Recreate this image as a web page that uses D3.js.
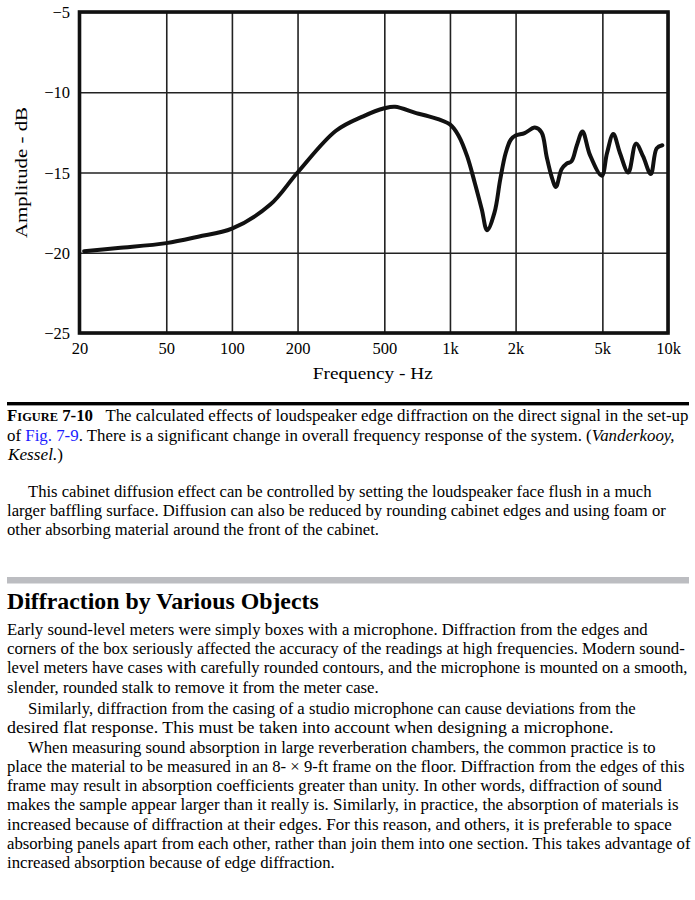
<!DOCTYPE html>
<html>
<head>
<meta charset="utf-8">
<script src="https://cdn.jsdelivr.net/npm/d3@7/dist/d3.min.js"></script>
<style>
  html, body { margin: 0; padding: 0; background: #fff; }
  svg { display: block; }
  text { font-family: "Liberation Serif", "Times New Roman", serif; fill: #000; }
</style>
</head>
<body>
<div id="chart"></div>
<script>
// curve (frequency in Hz, amplitude in dB)
const freqHz = [21, 30, 50, 70, 100, 150, 200, 300, 400, 500, 560, 700, 800, 1000,
  1100, 1200, 1300, 1400, 1480, 1600, 1700, 1800, 1900, 2000, 2200, 2450, 2630,
  2775, 2925, 3060, 3250, 3430, 3610, 3820, 4055, 4385, 4970, 5250, 5610, 6025,
  6575, 7130, 7690, 8340, 8870, 9420];
const ampDb = [-19.9, -19.7, -19.4, -19.0, -18.5, -17.0, -15.0, -12.4, -11.5, -11.0,
  -10.9, -11.3, -11.5, -12.0, -12.75, -14.0, -15.65, -17.3, -18.6, -17.5, -15.45,
  -13.8, -12.96, -12.7, -12.55, -12.2, -12.5, -14.0, -15.25, -15.9, -14.8, -14.45,
  -14.3, -13.3, -12.45, -13.9, -15.2, -13.8, -12.6, -13.8, -15.0, -13.2, -14.0,
  -15.1, -13.5, -13.3];

const xTicks = [20, 50, 100, 200, 500, 1000, 2000, 5000, 10000];
const xTickLabels = ["20", "50", "100", "200", "500", "1k", "2k", "5k", "10k"];
const yTicks = [-25, -20, -15, -10, -5];

const xTitle = "Frequency - Hz";
const yTitle = "Amplitude - dB";

// page text, one entry per printed line
const captionLines = [
  [{t: "F", b: 1}, {t: "IGURE", b: 1, s: 12.5}, {t: " 7-10", b: 1},
   {t: "\u00a0\u00a0 The calculated effects of loudspeaker edge diffraction on the direct signal in the set-up"}],
  [{t: "of "}, {t: "Fig. 7-9", c: "#1b1bff"},
   {t: ". There is a significant change in overall frequency response of the system. ("},
   {t: "Vanderkooy,", i: 1}],
  [{t: "Kessel.", i: 1}, {t: ")"}]
];
const introLines = [
  "This cabinet diffusion effect can be controlled by setting the loudspeaker face flush in a much",
  "larger baffling surface. Diffusion can also be reduced by rounding cabinet edges and using foam or",
  "other absorbing material around the front of the cabinet."
];
const heading = "Diffraction by Various Objects";
const bodyLines = [
  "Early sound-level meters were simply boxes with a microphone. Diffraction from the edges and",
  "corners of the box seriously affected the accuracy of the readings at high frequencies. Modern sound-",
  "level meters have cases with carefully rounded contours, and the microphone is mounted on a smooth,",
  "slender, rounded stalk to remove it from the meter case.",
  "Similarly, diffraction from the casing of a studio microphone can cause deviations from the",
  "desired flat response. This must be taken into account when designing a microphone.",
  "When measuring sound absorption in large reverberation chambers, the common practice is to",
  "place the material to be measured in an 8- \u00d7 9-ft frame on the floor. Diffraction from the edges of this",
  "frame may result in absorption coefficients greater than unity. In other words, diffraction of sound",
  "makes the sample appear larger than it really is. Similarly, in practice, the absorption of materials is",
  "increased because of diffraction at their edges. For this reason, and others, it is preferable to space",
  "absorbing panels apart from each other, rather than join them into one section. This takes advantage of",
  "increased absorption because of edge diffraction."
];

// line layout: [left, right, baseline]
const captionLayout = [[7, 689, 421], [7, 675, 440.5], [8, 63, 460]];
const introLayout = [[28, 652, 497], [7, 666, 516], [7, 379, 535]];
const bodyLayout = [
  [7, 648, 635], [7, 685, 654], [7, 688, 673], [7, 379, 692.5],
  [28, 636, 713.5], [7, 614, 733], [28, 656, 752.5], [7, 685, 772],
  [7, 662, 791], [7, 679, 810], [7, 672, 829.5], [7, 691, 849], [7, 335, 868]
];

const width = 695;
const height = 900;

const svg = d3.select("#chart").append("svg")
    .attr("width", width)
    .attr("height", height);

const x = d3.scaleLog().domain([20, 10000]).range([79.5, 668]);
const y = d3.scaleLinear().domain([-25, -5]).range([333, 12]);

const plot = svg.append("g");

// grid + tick labels
const xAxis = plot.append("g")
    .attr("transform", `translate(0,${y(-25)})`)
    .call(d3.axisBottom(x)
      .tickValues(xTicks)
      .tickFormat((d, i) => xTickLabels[i])
      .tickSize(-(y(-25) - y(-5))));

const yAxis = plot.append("g")
    .attr("transform", `translate(${x(20)},0)`)
    .call(d3.axisLeft(y)
      .tickValues(yTicks)
      .tickFormat(d3.format("d"))
      .tickSize(-(x(10000) - x(20))));

[xAxis, yAxis].forEach(g => {
  g.select(".domain").remove();
  g.selectAll(".tick line").attr("stroke", "#222").attr("stroke-width", 1.6);
  g.selectAll(".tick text")
      .attr("font-family", "Liberation Serif, serif")
      .attr("font-size", 16.5)
      .attr("fill", "#111");
});
xAxis.selectAll(".tick text").attr("y", 21).attr("dy", 0);
yAxis.selectAll(".tick text").attr("x", -9.5).attr("dy", "0.34em");

// frame
plot.append("rect")
    .attr("x", x(20))
    .attr("y", y(-5))
    .attr("width", x(10000) - x(20))
    .attr("height", y(-25) - y(-5))
    .attr("fill", "none")
    .attr("stroke", "#111")
    .attr("stroke-width", 3.6);

// response curve
const line = d3.line()
    .x(d => x(d[0]))
    .y(d => y(d[1]))
    .curve(d3.curveCatmullRom.alpha(0.5));

plot.append("path")
    .datum(d3.zip(freqHz, ampDb))
    .attr("d", line)
    .attr("fill", "none")
    .attr("stroke", "#111")
    .attr("stroke-width", 4)
    .attr("stroke-linejoin", "round")
    .attr("stroke-linecap", "round");

// axis titles
plot.append("text")
    .attr("x", (x(20) + x(10000)) / 2 - 1)
    .attr("y", 378.5)
    .attr("text-anchor", "middle")
    .attr("font-size", 17.5)
    .attr("textLength", 120)
    .attr("lengthAdjust", "spacingAndGlyphs")
    .text(xTitle);

plot.append("text")
    .attr("transform", `translate(27,${(y(-5) + y(-25)) / 2}) rotate(-90)`)
    .attr("text-anchor", "middle")
    .attr("font-size", 17.5)
    .attr("textLength", 131)
    .attr("lengthAdjust", "spacingAndGlyphs")
    .text(yTitle);

// text block below the figure
svg.append("rect").attr("x", 7).attr("y", 402).attr("width", 682).attr("height", 3.4).attr("fill", "#000");
svg.append("rect").attr("x", 7).attr("y", 577).attr("width", 682).attr("height", 6.5).attr("fill", "#bcbdc1");

function fitLine(parts, lay, size, weight) {
  const t = svg.append("text")
      .attr("font-size", size)
      .attr("font-weight", weight || null);
  parts.forEach(p => {
    t.append("tspan")
        .attr("font-weight", p.b ? "bold" : null)
        .attr("font-style", p.i ? "italic" : null)
        .attr("font-size", p.s || null)
        .attr("fill", p.c || null)
        .text(p.t);
  });
  const w = t.node().getComputedTextLength();
  const k = (lay[1] - lay[0]) / w;
  t.attr("transform", `translate(${lay[0]},${lay[2]}) scale(${k},1)`);
}

captionLines.forEach((parts, i) => fitLine(parts, captionLayout[i], 17));
introLines.forEach((s, i) => fitLine([{t: s}], introLayout[i], 17));
fitLine([{t: heading}], [7, 319, 609], 23, "bold");
bodyLines.forEach((s, i) => fitLine([{t: s}], bodyLayout[i], 17));
</script>
</body>
</html>
